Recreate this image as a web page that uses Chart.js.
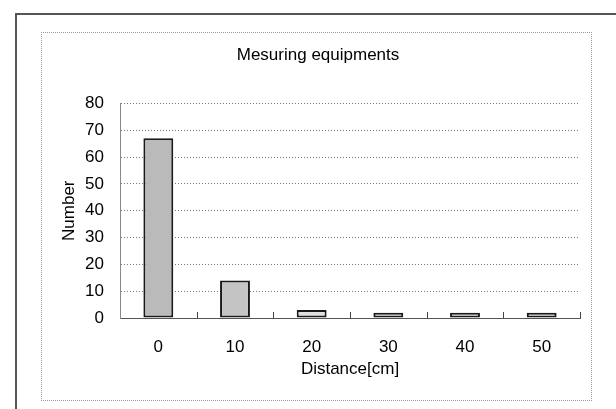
<!DOCTYPE html>
<html>
<head>
<meta charset="utf-8">
<script src="https://cdn.jsdelivr.net/npm/chart.js@4"></script>
<style>
  html, body { margin: 0; padding: 0; background: #fff; }
  #page { position: relative; width: 616px; height: 409px; overflow: hidden; }
  #outer { position: absolute; left: 15px; top: 13px; width: 620px; height: 420px;
           border-top: 2px solid #555; border-left: 2px solid #555; }
  #inner { position: absolute; left: 41px; top: 32px; width: 549px; height: 367px;
           border: 1px dotted #999; }
  #wrap { position: absolute; left: 0; top: 0; width: 616px; height: 409px; }
</style>
</head>
<body>
<div id="page">
  <div id="outer"></div>
  <div id="inner"></div>
  <div id="wrap"><canvas id="chart" width="616" height="409"></canvas></div>
</div>
<script>
// chart data
const distances = ['0', '10', '20', '30', '40', '50'];
const counts = [67, 14, 3, 2, 2, 2];
const barFills = ['#bababa', '#c4c4c4', '#e0e0e0', '#ececec', '#ececec', '#ececec'];

const FONT = "'Liberation Sans', Arial, sans-serif";

// small upward ticks on the baseline between categories (Excel style)
const innerTicks = {
    id: 'innerTicks',
    afterDatasetsDraw(chart) {
        const x = chart.scales.x;
        const y = chart.scales.y;
        const base = y.getPixelForValue(0);
        const half = (x.getPixelForValue(1) - x.getPixelForValue(0)) / 2;
        const ctx = chart.ctx;
        ctx.save();
        ctx.strokeStyle = '#444';
        ctx.lineWidth = 1;
        ctx.beginPath();
        for (let i = 0; i < distances.length; i++) {
            const px = Math.round(x.getPixelForValue(i) + half) + 0.5;
            ctx.moveTo(px, base);
            ctx.lineTo(px, base - 6);
        }
        ctx.stroke();
        ctx.restore();
    }
};

new Chart(document.getElementById('chart').getContext('2d'), {
    type: 'bar',
    data: {
        labels: distances,
        datasets: [{
            label: 'Number',
            data: counts,
            backgroundColor: barFills,
            borderColor: '#1a1a1a',
            borderWidth: 2,
            borderSkipped: false,
            barPercentage: 0.39,
            categoryPercentage: 1
        }]
    },
    options: {
        responsive: false,
        animation: false,
        layout: { padding: { left: 56, right: 36, top: 36, bottom: 25 } },
        plugins: {
            legend: { display: false },
            tooltip: { enabled: false },
            title: {
                display: true,
                text: 'Mesuring equipments',
                color: '#000',
                font: { family: FONT, size: 17, weight: 'normal' },
                padding: { top: 9, bottom: 38 }
            }
        },
        scales: {
            x: {
                afterFit(scale) { scale.height = 66; },
                grid: { display: false, drawTicks: false },
                border: { display: true, color: '#555', width: 1 },
                ticks: { color: '#000', padding: 19, font: { family: FONT, size: 17 } },
                title: {
                    display: true,
                    text: 'Distance[cm]',
                    color: '#000',
                    font: { family: FONT, size: 17 },
                    padding: { top: 4, bottom: 4 }
                }
            },
            y: {
                afterFit(scale) { scale.width = 64; },
                min: 0,
                max: 80,
                ticks: { stepSize: 10, color: '#000', padding: 16, font: { family: FONT, size: 17 } },
                grid: { color: '#777', drawTicks: false, lineWidth: 1 },
                border: { display: true, color: '#888', dash: [1, 2] },
                title: {
                    display: true,
                    text: 'Number',
                    color: '#000',
                    font: { family: FONT, size: 17 },
                    padding: { top: 3, bottom: 4 }
                }
            }
        }
    },
    plugins: [innerTicks]
});
</script>
</body>
</html>
